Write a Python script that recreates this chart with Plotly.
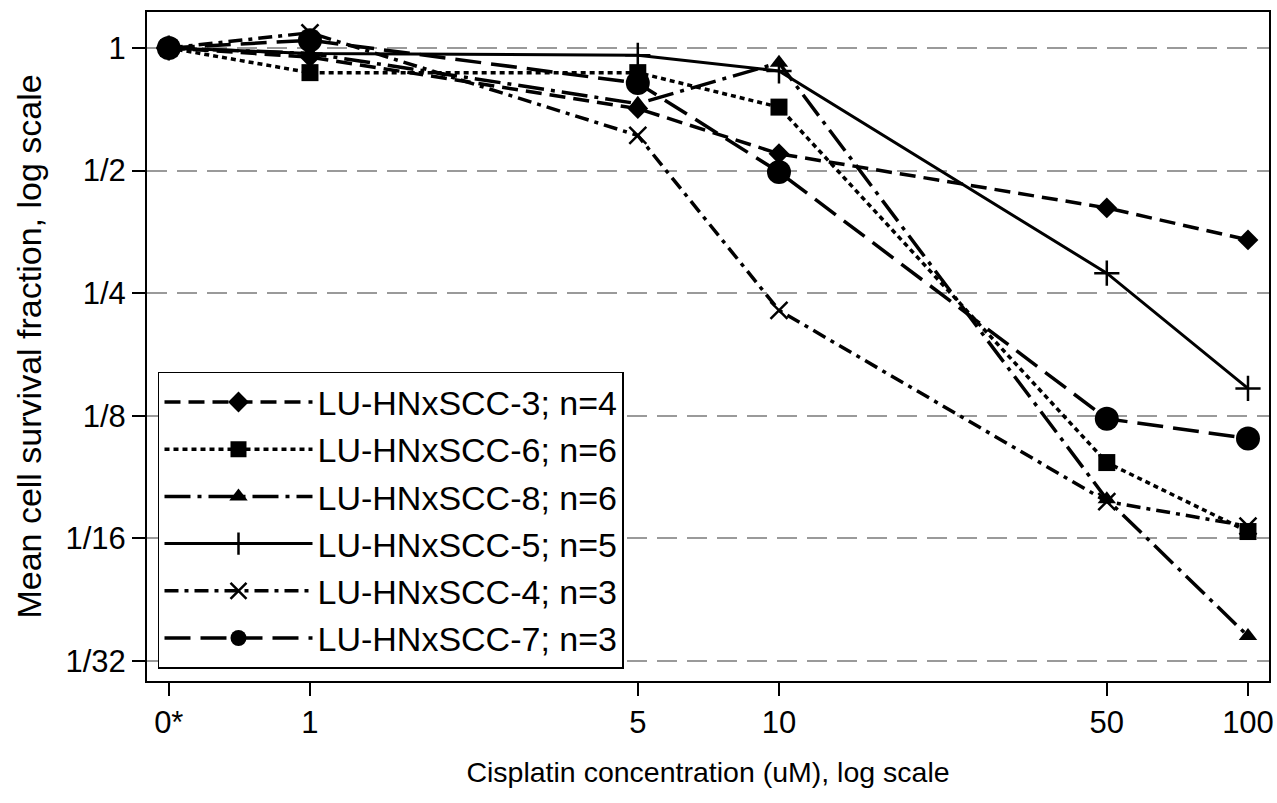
import plotly.graph_objects as go

# ---- data ----
x_labels = ["0*", "1", "5", "10", "50", "100"]
x_vals = [0.5, 1, 5, 10, 50, 100]

names = [
    "LU-HNxSCC-3; n=4",
    "LU-HNxSCC-6; n=6",
    "LU-HNxSCC-8; n=6",
    "LU-HNxSCC-5; n=5",
    "LU-HNxSCC-4; n=3",
    "LU-HNxSCC-7; n=3",
]
scc3 = [1.0, 0.95, 0.71, 0.55, 0.405, 0.338]
scc6 = [1.0, 0.87, 0.87, 0.716, 0.096, 0.065]
scc8 = [1.0, 0.97, 0.73, 0.92, 0.078, 0.036]
scc5 = [1.0, 0.97, 0.96, 0.878, 0.28, 0.146]
scc4 = [1.0, 1.09, 0.61, 0.227, 0.077, 0.067]
scc7 = [1.0, 1.045, 0.82, 0.496, 0.123, 0.110]

y_tickvals = [1, 0.5, 0.25, 0.125, 0.0625, 0.03125]
y_ticktext = ["1", "1/2", "1/4", "1/8", "1/16", "1/32"]

# ---- styles ----
series = [scc3, scc6, scc8, scc5, scc4, scc7]
symbols = ["diamond", "square", "triangle-up", "cross-thin", "x-thin", "circle"]
sizes = [16, 17, 16, 18, 17, 24]
dashes = ["16px,8px", "5px,4px", "26px,7px,4px,7px", "solid", "14px,6px,4px,6px", "26px,10px"]
widths = [3.5, 3.5, 3.5, 3, 3.5, 3.5]

FONT = "Liberation Sans, Arial, sans-serif"

fig = go.Figure()
for name, ys, sym, sz, d, w in zip(names, series, symbols, sizes, dashes, widths):
    thin = sym.endswith("-thin")
    fig.add_trace(go.Scatter(
        x=x_vals, y=ys, name=name, mode="lines+markers",
        line=dict(color="black", width=w, dash=d),
        marker=dict(symbol=sym, size=sz, color="black",
                    line=dict(color="black", width=2.5 if thin else 0)),
    ))

fig.update_layout(
    width=1277, height=803,
    margin=dict(l=147, r=8, t=12, b=122),
    paper_bgcolor="white", plot_bgcolor="white",
    font=dict(family=FONT, color="black", size=30),
    legend=dict(
        x=0.0098, y=0.462, xanchor="left", yanchor="top",
        bordercolor="black", borderwidth=1.5, bgcolor="white",
        font=dict(size=34, family=FONT, color="black"),
        itemwidth=148, tracegroupgap=0,
    ),
    showlegend=True,
)

fig.update_xaxes(
    type="log", range=[-0.3475, 2.0448], automargin=False,
    tickvals=x_vals, ticktext=x_labels,
    ticks="outside", ticklen=13, tickwidth=1.5, tickcolor="black",
    showgrid=False, zeroline=False,
    showline=True, linecolor="black", linewidth=2, mirror=True,
    tickfont=dict(size=31, family=FONT, color="black"),
    title=dict(text="Cisplatin concentration (uM), log scale",
               font=dict(size=28.5, family=FONT, color="black"), standoff=23),
)
fig.update_yaxes(
    type="log", range=[-1.554, 0.0884], automargin=False,
    tickvals=y_tickvals, ticktext=y_ticktext,
    ticks="outside", ticklen=13, tickwidth=1.5, tickcolor="black",
    showgrid=True, gridcolor="#9a9a9a", gridwidth=1.5, griddash="20px,10px",
    zeroline=False,
    showline=True, linecolor="black", linewidth=2, mirror=True,
    tickfont=dict(size=31, family=FONT, color="black"),
    title=dict(text="Mean cell survival fraction, log scale",
               font=dict(size=34, family=FONT, color="black"), standoff=14),
)

fig.write_html(
    "out.html",
    config={"displayModeBar": False},
    post_script="document.body.style.margin='0px';document.body.style.overflow='hidden';",
)
